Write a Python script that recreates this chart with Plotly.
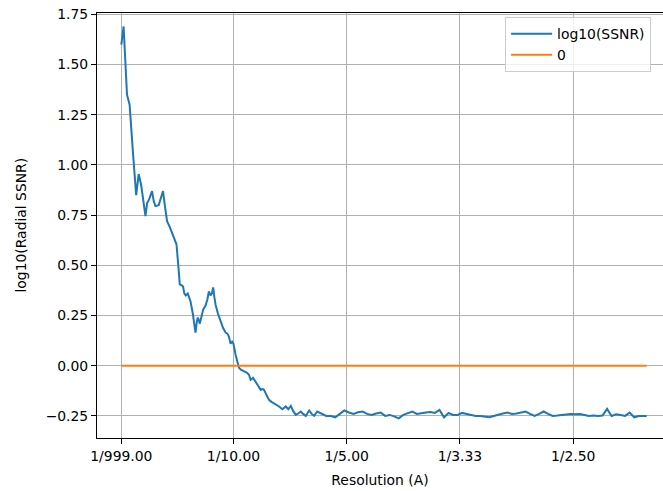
import plotly.graph_objects as go

# spatial frequency (1/A) and log10 of radial SSNR
freq = [0.0010, 0.0017, 0.0030, 0.0060, 0.0083, 0.0114, 0.0141, 0.0163, 0.0185, 0.0223,
        0.0238, 0.0256, 0.0281, 0.0296, 0.0311, 0.0340, 0.0358, 0.0378, 0.0396, 0.0414,
        0.0438, 0.0458, 0.0482, 0.0497, 0.0513, 0.0526, 0.0544, 0.0555, 0.0566, 0.0579,
        0.0597, 0.0621, 0.0641, 0.0665, 0.0677, 0.0686, 0.0703, 0.0721, 0.0733, 0.0754,
        0.0770, 0.0783, 0.0798, 0.0810, 0.0821, 0.0832, 0.0842, 0.0863, 0.0887, 0.0907,
        0.0931, 0.0947, 0.0960, 0.0975, 0.0989, 0.1000, 0.1019, 0.1034, 0.1049, 0.1066,
        0.1084, 0.1102, 0.1120, 0.1137, 0.1152, 0.1164, 0.1173, 0.1190, 0.1211, 0.1226,
        0.1241, 0.1257, 0.1270, 0.1292, 0.1314, 0.1336, 0.1359, 0.1381, 0.1403, 0.1432,
        0.1447, 0.1462, 0.1485, 0.1507, 0.1527, 0.1551, 0.1571, 0.1595, 0.1615, 0.1639,
        0.1655, 0.1669, 0.1691, 0.1713,
        0.174, 0.178, 0.182, 0.186, 0.190, 0.194, 0.198, 0.202, 0.206, 0.210,
        0.214, 0.218, 0.222, 0.226, 0.230, 0.234, 0.238, 0.242, 0.246, 0.250,
        0.254, 0.258, 0.262, 0.266, 0.270, 0.274, 0.278, 0.282, 0.286, 0.290,
        0.294, 0.298, 0.302, 0.306, 0.310, 0.314, 0.318, 0.322, 0.326, 0.330,
        0.334, 0.338, 0.342, 0.346, 0.350, 0.354, 0.358, 0.362, 0.366, 0.370,
        0.374, 0.378, 0.382, 0.386, 0.390, 0.394, 0.398, 0.402, 0.406, 0.410,
        0.414, 0.418, 0.422, 0.426, 0.430, 0.434, 0.438, 0.442, 0.446, 0.450,
        0.454, 0.458, 0.462, 0.465]
log_ssnr = [1.60, 1.64, 1.69, 1.35, 1.30, 1.05, 0.85, 0.955, 0.90, 0.745,
            0.81, 0.83, 0.87, 0.82, 0.795, 0.80, 0.83, 0.87, 0.79, 0.72,
            0.69, 0.66, 0.62, 0.605, 0.50, 0.405, 0.40, 0.395, 0.36, 0.35,
            0.36, 0.32, 0.26, 0.165, 0.22, 0.24, 0.21, 0.26, 0.28, 0.30,
            0.33, 0.37, 0.35, 0.36, 0.39, 0.34, 0.305, 0.26, 0.22, 0.19,
            0.165, 0.16, 0.145, 0.11, 0.12, 0.11, 0.055, 0.02, -0.01, -0.02,
            -0.025, -0.03, -0.035, -0.045, -0.07, -0.065, -0.06, -0.075, -0.095, -0.11,
            -0.12, -0.115, -0.12, -0.145, -0.17, -0.18, -0.187, -0.195, -0.203, -0.217,
            -0.21, -0.203, -0.217, -0.20, -0.225, -0.245, -0.238, -0.228, -0.24, -0.25,
            -0.235, -0.223, -0.24, -0.25,
            -0.228, -0.24, -0.25, -0.25, -0.257, -0.24, -0.223, -0.233, -0.24, -0.232,
            -0.228, -0.24, -0.245, -0.238, -0.233, -0.25, -0.245, -0.252, -0.262, -0.245,
            -0.235, -0.228, -0.24, -0.235, -0.233, -0.23, -0.235, -0.22, -0.257, -0.235,
            -0.245, -0.245, -0.235, -0.24, -0.245, -0.25, -0.25, -0.255, -0.257, -0.25,
            -0.243, -0.238, -0.233, -0.24, -0.238, -0.233, -0.228, -0.24, -0.25, -0.24,
            -0.228, -0.24, -0.25, -0.248, -0.245, -0.242, -0.24, -0.242, -0.24, -0.245,
            -0.25, -0.248, -0.25, -0.248, -0.215, -0.25, -0.242, -0.245, -0.25, -0.233,
            -0.257, -0.25, -0.25, -0.25]

tick_freq = [0.001, 0.1, 0.2, 0.3, 0.4]
tick_text = ["1/999.00", "1/10.00", "1/5.00", "1/3.33", "1/2.50"]

fig = go.Figure()
fig.add_trace(go.Scatter(x=freq, y=log_ssnr, mode="lines", name="log10(SSNR)",
                         line=dict(color="#1f77b4", width=2)))
fig.add_trace(go.Scatter(x=[freq[0], freq[-1]], y=[0, 0], mode="lines", name="0",
                         line=dict(color="#ff7f0e", width=2)))

FS = 13.9
axis_style = dict(showgrid=True, gridcolor="#b0b0b0", gridwidth=1, zeroline=False,
                  showline=True, linecolor="black", linewidth=1,
                  ticks="outside", ticklen=5, tickcolor="black",
                  tickfont=dict(size=FS, color="black"))

fig.update_xaxes(range=[-0.0205, 0.4794], tickvals=tick_freq, ticktext=tick_text,
                 mirror=True, title=dict(text="Resolution (A)", standoff=12,
                                         font=dict(size=FS, color="black")),
                 **axis_style)
fig.update_yaxes(range=[-0.36, 1.757], dtick=0.25, tick0=0, tickformat=".2f",
                 **axis_style)

# y title placed by hand, matplotlib puts it further left than plotly does
fig.add_annotation(text="log10(Radial SSNR)", xref="paper", yref="paper",
                   x=0, y=0.5, xshift=-77, xanchor="center", yanchor="middle",
                   textangle=-90, showarrow=False,
                   font=dict(size=FS, color="black"))

fig.update_layout(
    width=663, height=491,
    margin=dict(l=97, r=0, t=13, b=53, autoexpand=False),
    plot_bgcolor="white", paper_bgcolor="white",
    font=dict(family="DejaVu Sans", size=FS, color="black"),
    legend=dict(x=0.721, y=0.99, xanchor="left", yanchor="top", itemwidth=41,
                bgcolor="rgba(255,255,255,0.8)", bordercolor="#cccccc", borderwidth=1,
                font=dict(size=FS)),
)

# drop the default 8px page margin so the figure fills the window
fig.write_html("out.html", config={"displayModeBar": False},
               post_script="document.body.style.margin='0';")
